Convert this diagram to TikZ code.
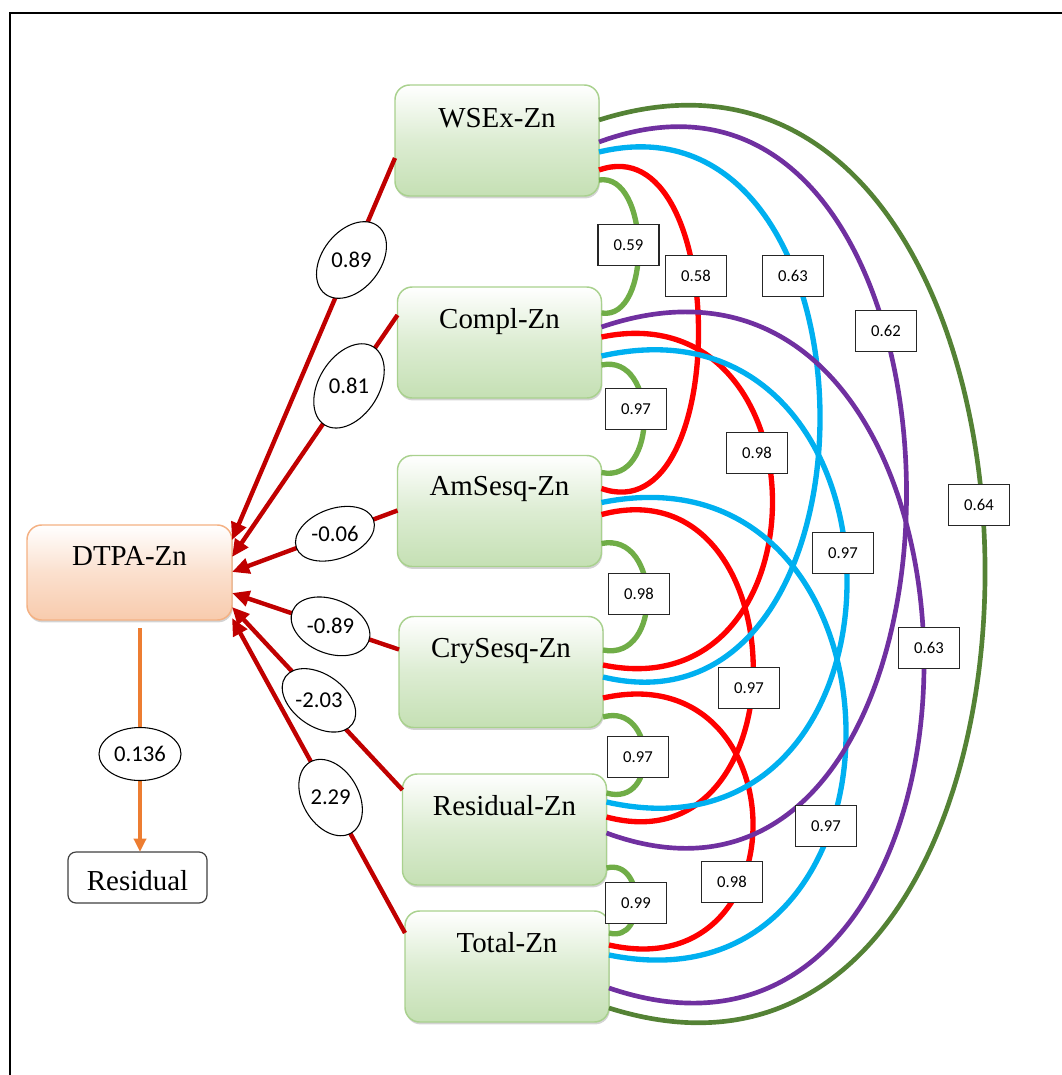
\documentclass[tikz,border=0pt]{standalone}
\usepackage{fontspec}
\setmainfont{Liberation Serif}
\newfontfamily\calib{Carlito}
\usetikzlibrary{arrows.meta,calc,shapes.geometric,shadows}
\definecolor{boxgreen}{HTML}{C5E0B4}
\definecolor{boxgreenline}{HTML}{A9D18E}
\definecolor{boxorange}{HTML}{F8CBAD}
\definecolor{boxorangeline}{HTML}{F4B183}
\definecolor{regred}{HTML}{C00000}
\definecolor{resorange}{HTML}{ED7D31}
\definecolor{cred}{HTML}{FF0000}
\definecolor{ccyan}{HTML}{00B0F0}
\definecolor{cgreen}{HTML}{70AD47}
\definecolor{cpurple}{HTML}{7030A0}
\definecolor{cdkgreen}{HTML}{548235}
\begin{document}
\begin{tikzpicture}[x=0.75pt,y=-0.75pt,
  varbox/.style={rectangle, rounded corners=11pt, draw=boxgreenline, line width=1.1pt,
     top color=white, bottom color=boxgreen, middle color=boxgreen!60!white,
     minimum width=153pt, minimum height=83.25pt, inner sep=0pt, outer sep=0pt,
     drop shadow={shadow xshift=0.6pt, shadow yshift=-1.8pt, opacity=0.35}},
  depbox/.style={varbox, draw=boxorangeline, top color=white, bottom color=boxorange,
     middle color=boxorange!60!white, minimum width=153.75pt, minimum height=71.25pt},
  resbox/.style={rectangle, rounded corners=6pt, draw=black!75, line width=0.9pt, fill=white,
     minimum width=104.25pt, minimum height=38.25pt, inner sep=0pt, outer sep=0pt},
  vtext/.style={font=\fontsize{21.7}{26}\selectfont, inner sep=0pt, anchor=base},
  num/.style={font=\calib\fontsize{17}{20}\selectfont, inner sep=0pt},
  ell/.style={ellipse, draw=black, line width=0.8pt, fill=white, inner sep=0pt},
  arclab/.style={rectangle, draw=black!85, line width=0.9pt, fill=white,
     minimum width=45.75pt, minimum height=30.75pt, inner sep=0pt,
     font=\calib\fontsize{12.5}{14}\selectfont},
  regarr/.style={draw=regred, line width=3.3pt, -{Triangle[length=13pt,width=11.5pt]}},
  resarr/.style={draw=resorange, line width=2.5pt, -{Triangle[length=10pt,width=9pt]}},
  cor/.style={line width=4pt},
  corthin/.style={line width=3.5pt},
]
\useasboundingbox (0,0) rectangle (1062,1075);
% frame
\draw[line width=1.8pt] (10,1075) -- (10,13) -- (1062,13);

% boxes
\node[varbox] (W) at (497,140.5) {};
\node[varbox] (C) at (499.5,342.5) {};
\node[varbox] (A) at (499.5,511) {};
\node[varbox] (Cr) at (501,672) {};
\node[varbox] (R) at (504.5,829.5) {};
\node[varbox] (T) at (507,966.5) {};
\node[depbox] (D) at (129.5,572.5) {};
\node[resbox] (Res) at (137.5,877.5) {};

\node[vtext] (Wt) at ($(W.north)+(0,42)$) {WSEx-Zn};
\node[vtext] (Ct) at ($(C.north)+(0,41)$) {Compl-Zn};
\node[vtext] (At) at ($(A.north)+(0,40)$) {AmSesq-Zn};
\node[vtext] (Crt) at ($(Cr.north)+(0,41)$) {CrySesq-Zn};
\node[vtext] (Rt) at ($(R.north)+(0,41)$) {Residual-Zn};
\node[vtext] (Tt) at ($(T.north)+(0,41)$) {Total-Zn};
\node[vtext] (Dt) at ($(D.north)+(0,40)$) {DTPA-Zn};
\node[vtext] (Rest) at ($(Res.north)+(0,38)$) {Residual};

% arc end points
\coordinate (W-dg) at ($(W.north east)+(0,35)$);
\coordinate (W-p)  at ($(W.north east)+(0,57)$);
\coordinate (W-c)  at ($(W.north east)+(0,67)$);
\coordinate (W-r)  at ($(W.north east)+(0,85)$);
\coordinate (W-g)  at ($(W.north east)+(0,95)$);
\coordinate (C-g1) at ($(C.north east)+(0,26)$);
\coordinate (C-p)  at ($(C.north east)+(0,40)$);
\coordinate (C-r)  at ($(C.north east)+(0,50)$);
\coordinate (C-c)  at ($(C.north east)+(0,69)$);
\coordinate (C-g2) at ($(C.north east)+(0,78)$);
\coordinate (A-g1) at ($(A.north east)+(0,17)$);
\coordinate (A-r1) at ($(A.north east)+(0,33)$);
\coordinate (A-c)  at ($(A.north east)+(0,47)$);
\coordinate (A-r2) at ($(A.north east)+(0,59)$);
\coordinate (A-g2) at ($(A.north east)+(0,88)$);
\coordinate (Cr-g1) at ($(Cr.north east)+(0,33.5)$);
\coordinate (Cr-r1) at ($(Cr.north east)+(0,48.5)$);
\coordinate (Cr-c)  at ($(Cr.north east)+(0,60.5)$);
\coordinate (Cr-r2) at ($(Cr.north east)+(0,81.5)$);
\coordinate (Cr-g2) at ($(Cr.north east)+(0,100.5)$);
\coordinate (R-g1) at ($(R.north east)+(0,19)$);
\coordinate (R-c)  at ($(R.north east)+(0,28)$);
\coordinate (R-r)  at ($(R.north east)+(0,43)$);
\coordinate (R-p)  at ($(R.north east)+(0,59)$);
\coordinate (R-g2) at ($(R.north east)+(0,94)$);
\coordinate (T-g1) at ($(T.north east)+(0,22)$);
\coordinate (T-r)  at ($(T.north east)+(0,34)$);
\coordinate (T-c)  at ($(T.north east)+(0,44)$);
\coordinate (T-p)  at ($(T.north east)+(0,77)$);
\coordinate (T-dg) at ($(T.north east)+(0,97)$);

% correlation arcs
\draw[cor, cgreen] (W-g) .. controls +(51,-8) and +(51,8) .. (C-g1);
\draw[cor, cgreen] (C-g2) .. controls +(57,-12) and +(57,12) .. (A-g1);
\draw[cor, cgreen] (A-g2) .. controls +(60,-12) and +(60,12) .. (Cr-g1);
\draw[cor, cgreen] (Cr-g2) .. controls +(53,-15) and +(53,15) .. (R-g1);
\draw[cor, cgreen] (R-g2) .. controls +(38,-10) and +(38,10) .. (T-g1);

\draw[cor, cred] (W-r) .. controls +(131,-46) and +(131,46) .. (A-r1);
\draw[cor, cred] (C-r) .. controls +(227,-47) and +(227,47) .. (Cr-r1);
\draw[cor, cred] (A-r2) .. controls +(199,-53) and +(199,53) .. (R-r);
\draw[cor, cred] (Cr-r2) .. controls +(196,-44) and +(196,44) .. (T-r);

\draw[cor, ccyan] (W-c) .. controls +(292,-70) and +(292,70) .. (Cr-c);
\draw[cor, ccyan] (C-c) .. controls +(324,-73) and +(324,73) .. (R-c);
\draw[cor, ccyan] (A-c) .. controls +(321,-65) and +(321,65) .. (T-c);

\draw[corthin, cpurple] (W-p) .. controls +(405,-149) and +(405,149) .. (R-p);
\draw[corthin, cpurple] (C-p) .. controls +(425,-145) and +(425,145) .. (T-p);

\draw[corthin, cdkgreen] (W-dg) .. controls +(508,-161) and +(508,161) .. (T-dg);

% arc labels
\node[arclab] (k1) at (628.5,245) {0.59};
\node[arclab] (k2) at (636,409) {0.97};
\node[arclab] (k3) at (639,594) {0.98};
\node[arclab] (k4) at (638,757) {0.97};
\node[arclab] (k5) at (636,903) {0.99};
\node[arclab] (k6) at (696,276) {0.58};
\node[arclab] (k7) at (757,453) {0.98};
\node[arclab] (k8) at (749,688) {0.97};
\node[arclab] (k9) at (732,882) {0.98};
\node[arclab] (k10) at (793,276) {0.63};
\node[arclab] (k11) at (843,553) {0.97};
\node[arclab] (k12) at (826,826) {0.97};
\node[arclab] (k13) at (886,331) {0.62};
\node[arclab] (k14) at (929,648) {0.63};
\node[arclab] (k15) at (979,505) {0.64};

% regression paths
\coordinate (Ws) at ($(W.north west)+(0,73)$);
\coordinate (Cs) at ($(C.north west)+(0,28)$);
\coordinate (As) at ($(A.north west)+(0,55)$);
\coordinate (Crs) at ($(Cr.north west)+(0,33)$);
\coordinate (Rs) at ($(R.north west)+(0,16)$);
\coordinate (Ts) at ($(T.north west)+(0,22)$);
\coordinate (D1) at ($(D.north east)+(0,15)$);
\coordinate (D2) at ($(D.north east)+(0,32)$);
\coordinate (D3) at ($(D.north east)+(0,47)$);
\coordinate (D4) at ($(D.north east)+(0,68)$);
\coordinate (D5) at ($(D.north east)+(0,82)$);
\coordinate (D6) at ($(D.north east)+(0,93)$);

\draw[regarr] (Ws) -- node[pos=0.267, ell, rotate=52, minimum width=64.5pt, minimum height=43.5pt] (e1) {} (D1);
\draw[regarr] (Cs) -- node[pos=0.293, ell, rotate=58, minimum width=69pt, minimum height=45pt] (e2) {} (D2);
\draw[regarr] (As) -- node[pos=0.378, ell, rotate=20, minimum width=61.5pt, minimum height=37.5pt] (e3) {} (D3);
\draw[regarr] (Crs) -- node[pos=0.41, ell, rotate=-22, minimum width=61.5pt, minimum height=40.5pt] (e4) {} (D4);
\draw[regarr] (Rs) -- node[pos=0.49, ell, rotate=-35, minimum width=61.5pt, minimum height=39pt] (e5) {} (D5);
\draw[regarr] (Ts) -- node[pos=0.43, ell, rotate=-60, minimum width=61.5pt, minimum height=42pt] (e6) {} (D6);
\node[num] (n1) at (e1) {0.89};
\node[num] (n2) at (e2) {0.81};
\node[num] (n3) at (e3) {-0.06};
\node[num] (n4) at (e4) {-0.89};
\node[num] (n5) at (e5) {-2.03};
\node[num] (n6) at (e6) {2.29};

% residual arrow
\coordinate (Dout) at ($(D.south)+(10.5,8)$);
\draw[resarr] (Dout) -- node[pos=0.5625, ell, minimum width=61.5pt, minimum height=39.75pt] (e0) {} (Res.north -| Dout);
\node[num] (n0) at (e0) {0.136};
\end{tikzpicture}
\end{document}
